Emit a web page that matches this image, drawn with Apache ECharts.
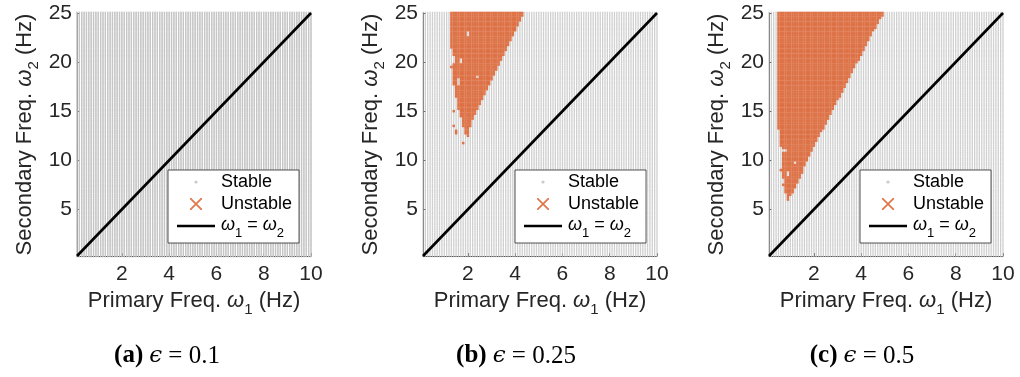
<!DOCTYPE html>
<html><head><meta charset="utf-8">
<script src="https://cdn.jsdelivr.net/npm/echarts@6/dist/echarts.min.js"></script>
<style>html,body{margin:0;padding:0;background:#fff}#chart{width:1020px;height:377px}</style>
</head><body><div id="chart"></div>
<script>
// ---- sweep grid (parameter sweep of the simulation) ----
const omega1Start = 0.1, omega1Step = 0.1, omega1Count = 100;
const omega2Start = 0.25, omega2Step = 0.25, omega2Count = 100;
// ---- tick labels ----
const xTicks = [2, 4, 6, 8, 10];
const yTicks = [5, 10, 15, 20, 25];
// ---- captions ----
const captionLabels = ['(a)', '(b)', '(c)'];
const epsilonValues = ['0.1', '0.25', '0.5'];
// ---- reference line ω1 = ω2 (diagonal of plot) ----
const diagonal = [[0.1, 0.25], [10, 25]];
// ---- unstable regions: [omega1, omega2 from, omega2 to] ----
const unstableA = [];
const unstableB = [
  [1.3, 21.5, 25], [1.3, 19.5, 19.5],
  [1.4, 20.75, 25], [1.4, 17.75, 19.75], [1.4, 15, 15], [1.4, 13.5, 13.5],
  [1.5, 16.5, 25], [1.5, 12.75, 13],
  [1.6, 18.5, 25], [1.6, 15.25, 17.5],
  [1.7, 14.5, 19.75], [1.7, 20.5, 25],
  [1.8, 13.5, 25], [1.8, 11.75, 11.75],
  [1.9, 12.75, 25],
  [2.0, 12.5, 22.5], [2.0, 23.25, 25],
  [2.1, 13.5, 25],
  [2.2, 14.25, 25],
  [2.3, 14.75, 25],
  [2.4, 15.25, 18.25], [2.4, 18.75, 25],
  [2.5, 15.75, 25],
  [2.6, 16.25, 25],
  [2.7, 16.75, 25],
  [2.8, 17.25, 25],
  [2.9, 17.75, 25],
  [3.0, 18.25, 25],
  [3.1, 18.75, 25],
  [3.2, 19.25, 25],
  [3.3, 19.75, 25],
  [3.4, 20.25, 25],
  [3.5, 20.75, 25],
  [3.6, 21.25, 25],
  [3.7, 21.75, 25],
  [3.8, 22.25, 25],
  [3.9, 22.75, 25],
  [4.0, 23.25, 25],
  [4.1, 23.75, 25],
  [4.2, 24.25, 25],
  [4.3, 24.75, 25]
];
const unstableC = [
  [0.5, 13.25, 25],
  [0.6, 11.5, 25], [0.6, 9, 9],
  [0.7, 11.25, 25], [0.7, 8.25, 10.75], [0.7, 7.5, 7.5],
  [0.8, 11.25, 25], [0.8, 6.75, 10.75],
  [0.9, 9, 25], [0.9, 6, 8.25],
  [1.0, 6.5, 25],
  [1.1, 6.75, 25],
  [1.2, 7.25, 9.5], [1.2, 10, 25],
  [1.3, 7.75, 25],
  [1.4, 8.25, 25],
  [1.5, 8.75, 25],
  [1.6, 9.5, 25],
  [1.7, 10, 25],
  [1.8, 10.5, 25],
  [1.9, 11, 25],
  [2.0, 11.5, 25],
  [2.1, 12, 25],
  [2.2, 12.5, 25],
  [2.3, 13, 25],
  [2.4, 13.25, 25],
  [2.5, 13.75, 25],
  [2.6, 14.25, 25],
  [2.7, 14.75, 25],
  [2.8, 15.25, 25],
  [2.9, 15.75, 25],
  [3.0, 16.25, 25],
  [3.1, 16.5, 25],
  [3.2, 17, 25],
  [3.3, 17.5, 25],
  [3.4, 18, 25],
  [3.5, 18.5, 25],
  [3.6, 19, 25],
  [3.7, 19.5, 25],
  [3.8, 20, 25],
  [3.9, 20.25, 25],
  [4.0, 20.75, 25],
  [4.1, 21.25, 25],
  [4.2, 21.75, 25],
  [4.3, 22.25, 25],
  [4.4, 22.75, 25],
  [4.5, 23.25, 25],
  [4.6, 23.5, 25],
  [4.7, 24, 25],
  [4.8, 24.5, 25],
  [4.9, 24.75, 25]
];
const unstableSets = [unstableA, unstableB, unstableC];

// ---- build sweep points ----
function buildPoints(segs) {
  const unst = [], keys = new Set();
  segs.forEach(([w1, lo, hi]) => {
    for (let j = 0; j < omega2Count; j++) {
      const w2 = omega2Start + j * omega2Step;
      if (w2 >= lo - 1e-9 && w2 <= hi + 1e-9) {
        unst.push([w1, w2]);
        keys.add(Math.round(w1 * 10) + ',' + Math.round(w2 * 4));
      }
    }
  });
  const stable = [];
  for (let i = 0; i < omega1Count; i++) {
    const w1 = +(omega1Start + i * omega1Step).toFixed(2);
    for (let j = 0; j < omega2Count; j++) {
      const w2 = +(omega2Start + j * omega2Step).toFixed(2);
      if (!keys.has(Math.round(w1 * 10) + ',' + Math.round(w2 * 4))) stable.push([w1, w2]);
    }
  }
  return { stable, unst };
}

const FONT = 'Liberation Sans';
const AX = '#262626';
const gridLefts = [77, 423, 769];
const legendLefts = [168, 515, 860];
const captionX = [167, 516, 862];

const subRich = {
  w: { fontStyle: 'italic', fontFamily: FONT, fontSize: 22 },
  s: { fontSize: 15, fontFamily: FONT, padding: [17, 0, 0, 0] }
};

const grids = [], xAxes = [], yAxes = [], series = [], legends = [], graphics = [];
const LINE_NAME = 'w1w2';
const iconStable = 'path://M0,0M40,14M18.4,7a1.6,1.6 0 1 0 3.2,0a1.6,1.6 0 1 0 -3.2,0z';
const iconUnstable = 'path://M0,0M40,14M14,1L15.2,1L26,11.8L26,13L24.8,13L14,2.2ZM26,1L26,2.2L15.2,13L14,13L14,11.8L24.8,1Z';
const iconLine = 'path://M0,0M40,14M1,5.7L39,5.7L39,8.3L1,8.3Z';

for (let p = 0; p < 3; p++) {
  const { stable, unst } = buildPoints(unstableSets[p]);
  grids.push({ left: gridLefts[p], top: 13, width: 234, height: 243 });
  xAxes.push({
    type: 'value', gridIndex: p, min: 0.1, max: 10,
    name: 'Primary Freq. {w|ω}{s|1} (Hz)', nameLocation: 'middle', nameGap: 29,
    nameTextStyle: { fontSize: 22, color: AX, fontFamily: FONT, rich: subRich },
    axisLine: { show: true, onZero: false, lineStyle: { color: AX, width: 0.8 } },
    axisTick: { show: true, inside: true, length: 3, customValues: xTicks, lineStyle: { color: AX, width: 0.8 } },
    axisLabel: { customValues: xTicks, fontSize: 21, color: AX, fontFamily: FONT, margin: 8 },
    splitLine: { show: false }
  });
  yAxes.push({
    type: 'value', gridIndex: p, min: 0.25, max: 25,
    name: 'Secondary Freq. {w|ω}{s|2} (Hz)', nameLocation: 'middle', nameGap: 36,
    nameTextStyle: { fontSize: 22, color: AX, fontFamily: FONT, rich: subRich },
    axisLine: { show: true, onZero: false, lineStyle: { color: AX, width: 0.8 } },
    axisTick: { show: true, inside: true, length: 3, customValues: yTicks, lineStyle: { color: AX, width: 0.8 } },
    axisLabel: { customValues: yTicks, fontSize: 21, color: AX, fontFamily: FONT, margin: 5 },
    splitLine: { show: false }
  });
  series.push({
    type: 'scatter', name: 'Stable', xAxisIndex: p, yAxisIndex: p, data: stable,
    symbol: 'rect', symbolSize: [1.3, 2.5], itemStyle: { color: '#c2c2c2' },
    large: true, largeThreshold: 100, silent: true, z: 1, animation: false
  });
  series.push({
    type: 'scatter', name: 'Unstable', xAxisIndex: p, yAxisIndex: p, data: unst,
    symbol: 'rect', symbolSize: [2.45, 2.6], itemStyle: { color: '#D4501A' },
    large: true, largeThreshold: 100, silent: true, z: 2, animation: false
  });
  series.push({
    type: 'line', name: LINE_NAME, xAxisIndex: p, yAxisIndex: p, data: diagonal,
    symbol: 'none', showSymbol: false, silent: true, z: 3, animation: false,
    lineStyle: { color: '#000', width: 2.6 }
  });
  legends.push({
    left: legendLefts[p], top: 170, orient: 'vertical', z: 10,
    padding: [2, 7, 3, 8], itemGap: 2, itemWidth: 40, itemHeight: 14,
    backgroundColor: '#fff', borderColor: AX, borderWidth: 0.8, borderRadius: 0,
    selectedMode: false,
    textStyle: { fontSize: 18, color: '#000', fontFamily: FONT, lineHeight: 20,
      rich: {
        w: { fontStyle: 'italic', fontSize: 18, fontFamily: FONT, lineHeight: 20, verticalAlign: 'top' },
        m: { fontSize: 18, fontFamily: FONT, lineHeight: 20, verticalAlign: 'top' },
        s: { fontSize: 13, fontFamily: FONT, lineHeight: 14, padding: [11, 0, 0, 0], verticalAlign: 'top' }
      } },
    formatter: name => name === LINE_NAME ? '{w|ω}{s|1}{m| = }{w|ω}{s|2}' : name,
    data: [
      { name: 'Stable', icon: iconStable, itemStyle: { color: '#bdbdbd', borderWidth: 0 } },
      { name: 'Unstable', icon: iconUnstable, itemStyle: { color: '#D95319', borderWidth: 0 } },
      { name: LINE_NAME, icon: iconLine, itemStyle: { color: '#000', borderWidth: 0 } }
    ]
  });
  graphics.push({
    type: 'text', x: captionX[p], y: 356, z: 10,
    style: {
      text: '{b|' + captionLabels[p] + '}\u2002{e|ϵ}{r|\u2005=\u2005' + epsilonValues[p] + '}',
      align: 'center', verticalAlign: 'middle', fill: '#000',
      rich: {
        b: { fontWeight: 'bold', fontSize: 25, fontFamily: 'Liberation Serif', fill: '#000' },
        e: { fontStyle: 'italic', fontSize: 23, fontFamily: 'DejaVu Serif', fill: '#000' },
        r: { fontSize: 25, fontFamily: 'Liberation Serif', fill: '#000' }
      }
    }
  });
}

const chart = echarts.init(document.getElementById('chart'), null, { renderer: 'canvas' });
chart.setOption({
  backgroundColor: '#fff',
  animation: false,
  grid: grids, xAxis: xAxes, yAxis: yAxes, series, legend: legends, graphic: graphics
});
</script></body></html>
